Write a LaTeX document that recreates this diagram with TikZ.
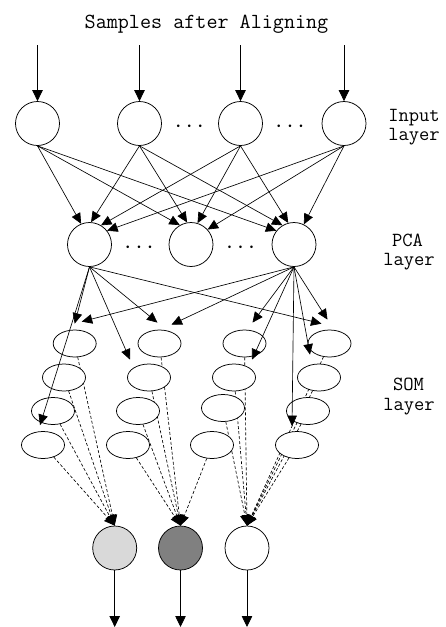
\documentclass[tikz,border=0pt]{standalone}
\usepackage{fontspec}
\usetikzlibrary{arrows.meta,shapes.geometric,calc}
\pgfdeclarelayer{background}
\pgfsetlayers{background,main}
\begin{document}
\begin{tikzpicture}[x=1pt,y=-1pt,
  neuron/.style={circle,draw,line width=0.75pt,minimum size=44pt,inner sep=0pt,fill=white},
  som/.style={ellipse,draw,line width=0.75pt,minimum width=43pt,minimum height=27pt,inner sep=0pt,fill=white},
  conn/.style={line width=0.65pt,-{Triangle[length=10.5pt,width=9.5pt]}},
  bigconn/.style={line width=0.75pt,-{Triangle[length=11pt,width=10.5pt]}},
  dconn/.style={conn,dash pattern=on 3pt off 2pt},
  lbl/.style={font=\ttfamily\fontsize{20}{20}\selectfont,anchor=base,inner sep=0pt},
  ttl/.style={font=\ttfamily\fontsize{21.5}{22}\selectfont,anchor=base,inner sep=0pt},
  dotsnode/.style={font=\fontsize{30}{30}\selectfont,inner sep=0pt}
]
\useasboundingbox (0,0) rectangle (445,627);

% title
\node[ttl] (title) at (206.5,28.5) {Samples after Aligning};

% input layer
\node[neuron] (i1) at (37.5,123.5) {};
\node[neuron] (i2) at (139.5,123.5) {};
\node[neuron] (i3) at (240.5,123.5) {};
\node[neuron] (i4) at (344,123.5) {};
\node[dotsnode] (d1) at (189.3,126.5) {$\cdots$};
\node[dotsnode] (d2) at (290,126.5) {$\cdots$};
\coordinate (t1) at (37.5,45);
\coordinate (t2) at (139.5,45);
\coordinate (t3) at (240.5,45);
\coordinate (t4) at (344,45);
\foreach \k in {1,2,3,4} \draw[bigconn] (t\k) -- (i\k);

\node[lbl] (li1) at (414,121) {Input};
\node[lbl] (li2) at (414,140) {layer};

% PCA layer
\node[neuron] (p1) at (89.5,244.5) {};
\node[neuron] (p2) at (191,244.5) {};
\node[neuron] (p3) at (294,244.5) {};
\node[dotsnode] (d3) at (139,247.5) {$\cdots$};
\node[dotsnode] (d4) at (240.6,247.5) {$\cdots$};
\node[lbl] (lp1) at (407.5,246) {PCA};
\node[lbl] (lp2) at (409,265) {layer};

% input -> PCA
\draw[conn] (i1.south) -- (p1.112);
\draw[conn] (i1.south) -- (p2.120);
\draw[conn] (i1.south) -- (p3.142);
\draw[conn] (i2.south) -- (p1.86);
\draw[conn] (i2.south) -- (p2.100);
\draw[conn] (i2.south) -- (p3.121);
\draw[conn] (i3.south) -- (p1.59);
\draw[conn] (i3.south) -- (p2.73);
\draw[conn] (i3.south) -- (p3.105);
\draw[conn] (i4.south) -- (p1.38);
\draw[conn] (i4.south) -- (p2.42);
\draw[conn] (i4.south) -- (p3.64);

% SOM layer
\node[som] (s11) at (74.7,343.5) {};
\node[som] (s12) at (64,377.5) {};
\node[som] (s13) at (53,411) {};
\node[som] (s14) at (43,445) {};
\node[som] (s21) at (159.5,343.5) {};
\node[som] (s22) at (149,377.5) {};
\node[som] (s23) at (138,411) {};
\node[som] (s24) at (128,445) {};
\node[som] (s31) at (244.5,343.5) {};
\node[som] (s32) at (234,377.5) {};
\node[som] (s33) at (223,408) {};
\node[som] (s34) at (212,445) {};
\node[som] (s41) at (329.5,343.5) {};
\node[som] (s42) at (319,377.5) {};
\node[som] (s43) at (308,411) {};
\node[som] (s44) at (297,445) {};
\node[lbl] (ls1) at (408.5,390) {SOM};
\node[lbl] (ls2) at (409,410) {layer};

% output layer
\node[neuron,fill={rgb,255:red,217;green,217;blue,217}] (o1) at (114.7,548) {};
\node[neuron,fill={rgb,255:red,128;green,128;blue,128}] (o2) at (180.5,548) {};
\node[neuron] (o3) at (247,548) {};
\coordinate (b1) at (114.7,627);
\coordinate (b2) at (180.5,627);
\coordinate (b3) at (247,627);
\foreach \k in {1,2,3} \draw[bigconn] (o\k) -- (b\k);

% SOM -> output (dashed, behind the ellipses)
\begin{pgfonlayer}{background}
\foreach \r in {1,2,3,4} \draw[dconn] (s1\r) -- (o1.north);
\foreach \r in {1,2,3,4} \draw[dconn] (s2\r) -- (o2.north);
\draw[dconn] (s34) -- (o2.north);
\foreach \r in {1,2,3} \draw[dconn] (s3\r) -- (o3.north);
\foreach \r in {1,2,3,4} \draw[dconn] (s4\r) -- (o3.north);
\end{pgfonlayer}

% PCA -> SOM
\draw[conn] (p1.south) -- ($(s11.north)+(0,-6)$);
\draw[conn] (p1.south) -- ($(s14.north)+(-3,-6)$);
\draw[conn] (p1.south) -- ($(s22.north)+(-19,-4)$);
\draw[conn] (p1.south) -- ($(s21.north)+(-2,-7)$);
\draw[conn] (p1.south) -- ($(s41.north)+(-8,-6)$);
\draw[conn] (p3.south) -- ($(s11.north)+(7,-8)$);
\draw[conn] (p3.south) -- ($(s21.north)+(12,-5)$);
\draw[conn] (p3.south) -- ($(s31.north)+(8,-7)$);
\draw[conn] (p3.south) -- ($(s32.north)+(18,-4)$);
\draw[conn] (p3.south) -- ($(s44.north)+(-5,-5)$);
\draw[conn] (p3.south) -- ($(s42.north)+(-9,-9)$);
\draw[conn] (p3.south) -- ($(s41.north)+(-2,-10)$);
\end{tikzpicture}
\end{document}
